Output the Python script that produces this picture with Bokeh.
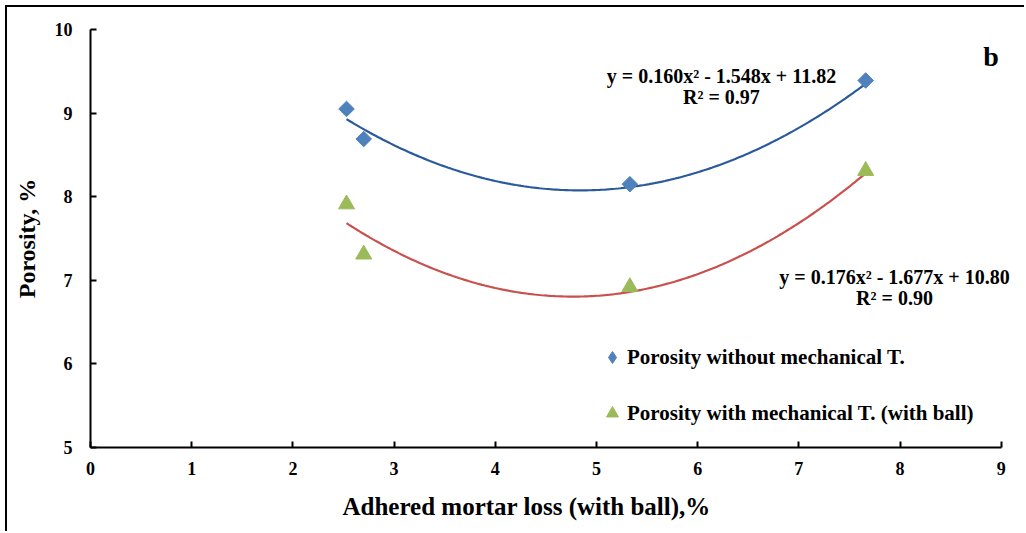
import numpy as np
from bokeh.plotting import figure
from bokeh.models import ColumnDataSource, FixedTicker, Label, Legend, LegendItem, Title
from bokeh.embed import file_html
from bokeh.resources import INLINE

# ---- data ----
x_vals = [2.53, 2.70, 5.33, 7.66]
por_without = [9.05, 8.69, 8.15, 9.39]
por_with = [7.91, 7.31, 6.92, 8.31]
fit_without = [0.160, -1.548, 11.82]
fit_with = [0.176, -1.677, 10.80]
eq_without = ["y = 0.160x² - 1.548x + 11.82", "R² = 0.97"]
eq_with = ["y = 0.176x² - 1.677x + 10.80", "R² = 0.90"]
series_names = ["Porosity without mechanical T.", "Porosity with mechanical T. (with ball)"]
x_ticks = [0, 1, 2, 3, 4, 5, 6, 7, 8, 9]
y_ticks = [5, 6, 7, 8, 9, 10]
x_title = "Adhered mortar loss (with ball),%"
y_title = "Porosity, %"
panel_letter = "b"

FONT = "Liberation Serif"

# frame: 84px left border, 101.2 px per x unit, range extended past 9 for the equation text
p = figure(width=1019, height=526, x_range=(0, 9.2), y_range=(5, 10),
           output_backend="svg", toolbar_location=None,
           min_border_left=83, min_border_top=22, min_border_right=5, min_border_bottom=86)
p.styles = {"border-top": "2px solid black", "border-left": "2px solid black",
            "margin-top": "5px", "margin-left": "5px"}
p.xgrid.visible = False
p.ygrid.visible = False
p.outline_line_color = None
p.background_fill_color = "white"

for ax in (p.xaxis[0], p.yaxis[0]):
    ax.axis_line_width = 2
    ax.axis_line_color = "black"
    ax.major_tick_line_width = 2
    ax.major_tick_in = 6
    ax.major_tick_out = 0
    ax.minor_tick_line_color = None
    ax.major_label_text_font = FONT
    ax.major_label_text_font_style = "bold"
    ax.major_label_text_font_size = "18px"
    ax.major_label_text_color = "black"
    ax.axis_label_text_font = FONT
    ax.axis_label_text_font_style = "bold"
    ax.axis_label_text_font_size = "24px"
    ax.axis_label_text_color = "black"

p.xaxis.ticker = FixedTicker(ticks=x_ticks)
p.yaxis.ticker = FixedTicker(ticks=y_ticks)
p.xaxis.bounds = (0, 9)
p.yaxis.axis_label = y_title
p.xaxis.major_label_standoff = 14
p.yaxis.major_label_standoff = 18
p.yaxis.axis_label_standoff = 12

p.add_layout(Title(text=x_title, align="left", offset=252, standoff=27,
                   text_font=FONT, text_font_style="bold", text_font_size="25px",
                   text_color="black"), "below")

# trend lines from fitted coefficients
xs = np.linspace(min(x_vals), max(x_vals), 200)
p.line(xs, np.polyval(fit_without, xs), line_color="#2A5A9C", line_width=2.2)
p.line(xs, np.polyval(fit_with, xs), line_color="#C9504D", line_width=2.2)

src = ColumnDataSource(dict(x=x_vals, a=por_without, b=por_with))
r1 = p.scatter("x", "a", source=src, marker="square", angle=np.pi / 4, size=11,
               fill_color="#4F81BD", line_color="#4F81BD")
r2 = p.scatter("x", "b", source=src, marker="triangle", size=16,
               fill_color="#9BBB59", line_color="#9BBB59")
# legend-only diamond (legend markers are always drawn unrotated)
r1_leg = p.scatter([np.nan], [np.nan], marker="diamond", size=12,
                   fill_color="#4F81BD", line_color="#4F81BD")

legend = Legend(items=[LegendItem(label=series_names[0], renderers=[r1_leg]),
                       LegendItem(label=series_names[1], renderers=[r2])],
                location=(507, 19), padding=0, margin=0, spacing=26,
                glyph_width=30, glyph_height=30, label_height=30, label_standoff=0,
                border_line_color=None, background_fill_alpha=0,
                label_text_font=FONT, label_text_font_style="bold",
                label_text_font_size="21px", label_text_color="black")
p.add_layout(legend)

def add_text(txt, x, y, size):
    p.add_layout(Label(x=x, y=y, text=txt, text_font=FONT, text_font_style="bold",
                       text_font_size=size, text_align="center",
                       text_baseline="alphabetic", text_color="black"))

add_text(eq_without[0], 6.235, 9.448, "20px")
add_text(eq_without[1], 6.235, 9.193, "20px")
add_text(eq_with[0], 7.945, 7.035, "20px")
add_text(eq_with[1], 7.945, 6.783, "20px")
add_text(panel_letter, 8.90, 9.676, "28px")

open("out.html", "w").write(file_html(p, INLINE))
